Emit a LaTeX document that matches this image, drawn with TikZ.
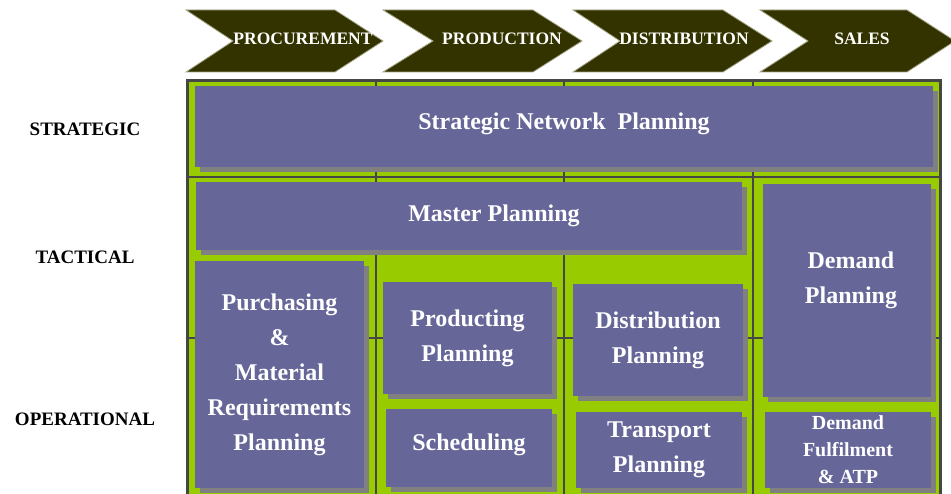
\documentclass[tikz,border=0pt]{standalone}
\usepackage{fontspec}
\setmainfont{Liberation Serif}
\usepackage{tikz}
\usetikzlibrary{shadows}

\definecolor{planpurple}{RGB}{102,102,153}
\definecolor{planshadow}{RGB}{128,128,128}
\definecolor{gridgreen}{RGB}{153,204,0}
\definecolor{chevronfill}{RGB}{51,51,0}
\definecolor{chevronline}{RGB}{165,165,135}
\definecolor{framegray}{RGB}{70,70,70}

\begin{document}
\begin{tikzpicture}[x=1pt, y=-1pt,
	chevron/.style={draw=chevronline, fill=chevronfill, line width=0.8pt},
	stage/.style={text=white, font=\bfseries\fontsize{17.5}{20}\selectfont, inner sep=0pt},
	level/.style={text=black, font=\bfseries\fontsize{19}{22}\selectfont, inner sep=0pt},
	frame/.style={draw=framegray, fill=gridgreen, line width=3pt},
	divider/.style={draw=framegray, line width=1.6pt},
	plan/.style={fill=planpurple, text=white, align=center, inner sep=0pt,
		font=\bfseries\fontsize{24}{35}\selectfont,
		drop shadow={shadow xshift=5pt, shadow yshift=-5pt, fill=planshadow, opacity=1}},
	smallplan/.style={plan, font=\bfseries\fontsize{20}{27}\selectfont}]
	
	\clip (0,0) rectangle (951,494);
	
	% supply chain stages
	\draw[chevron] (186,10) -- (335,10) -- (383,41) -- (335,72) -- (186,72) -- (233,41) -- cycle;
	\draw[chevron] (383,10) -- (533,10) -- (582,41) -- (533,72) -- (383,72) -- (433,41) -- cycle;
	\draw[chevron] (573,10) -- (723,10) -- (772,41) -- (723,72) -- (573,72) -- (620,41) -- cycle;
	\draw[chevron] (760,10) -- (907,10) -- (955,41) -- (907,72) -- (760,72) -- (808,41) -- cycle;
	\node[stage] (procurement) at (303,39) {PROCUREMENT};
	\node[stage] (production) at (502,39) {PRODUCTION};
	\node[stage] (distribution) at (684,39) {DISTRIBUTION};
	\node[stage] (sales) at (862,39) {SALES};
	
	% planning levels
	\node[level] (strategic) at (85,129) {STRATEGIC};
	\node[level] (tactical) at (85,257) {TACTICAL};
	\node[level] (operational) at (85,419) {OPERATIONAL};
	
	% grid
	\draw[frame] (187.5,80.5) rectangle (940.5,520);
	\draw[divider] (189,177) -- (939,177);
	\draw[divider] (189,338) -- (939,338);
	\draw[divider] (376,82) -- (376,520);
	\draw[divider] (564,82) -- (564,520);
	\draw[divider] (753,82) -- (753,520);
	
	% planning tasks
	\node[plan, minimum width=738pt, minimum height=81pt, text depth=11pt] (network) at (564,126.5) {Strategic Network\ \ Planning};
	\node[plan, minimum width=546pt, minimum height=68pt] (master) at (469,216) {\hspace*{50pt}Master Planning};
	\node[plan, minimum width=168pt, minimum height=213pt, text depth=26pt] (demand) at (847,290.5) {\hspace*{8pt}Demand\\\hspace*{8pt}Planning};
	\node[plan, minimum width=169pt, minimum height=227pt] (purchasing) at (279.5,374.5) {Purchasing\\\&\\Material\\Requirements\\Planning};
	\node[plan, minimum width=169pt, minimum height=112pt] (producting) at (467.5,338) {Producting\\Planning};
	\node[plan, minimum width=166pt, minimum height=78pt, text depth=11pt] (scheduling) at (469,448) {Scheduling};
	\node[plan, minimum width=170pt, minimum height=112pt] (distplan) at (658,340) {Distribution\\Planning};
	\node[plan, minimum width=166pt, minimum height=76pt] (transport) at (659,450) {Transport\\Planning};
	\node[smallplan, minimum width=166pt, minimum height=76pt] (fulfilment) at (848,450) {Demand\\Fulfilment\\\& ATP};
	
\end{tikzpicture}
\end{document}
